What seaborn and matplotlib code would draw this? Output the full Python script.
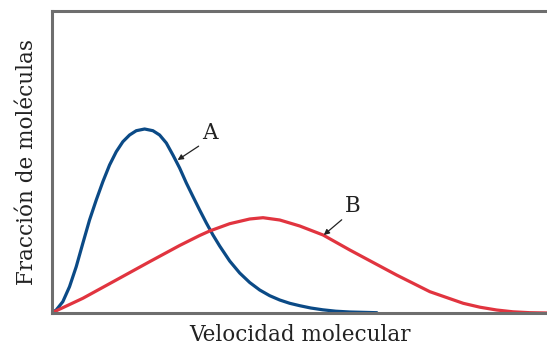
import matplotlib
matplotlib.use("Agg")
import matplotlib.pyplot as plt
import seaborn as sns
import pandas as pd

# Curve A (blue) and curve B (red) (arbitrary units)
speed_a = [0, 4.7, 11.3, 18, 24.7, 31.3, 38, 44.7, 51.3, 58, 64.7, 71.3, 78, 84.7, 93,
           101.3, 108, 114.7, 121.3, 128, 134.7, 141.3, 148, 154.7, 161.3, 168, 178, 188,
           198, 208, 218, 228, 238, 248, 259, 271, 284, 298, 325]
frac_a = [0, 3, 11.3, 26.3, 46.3, 69.7, 93, 113, 131.3, 148, 161.3, 171.3, 178, 182.3,
          184, 182.3, 178, 170, 158, 145, 130, 116.5, 103, 90, 78, 67, 52, 40, 30.5, 23,
          17.3, 13, 9.7, 7.3, 5, 3.2, 1.8, 1, 0.3]
speed_b = [0, 31.3, 64.7, 98, 128, 148, 158, 178, 198, 211.3, 228, 248, 271.3, 298,
           324.7, 344.7, 378, 411.3, 428, 444.7, 461, 478, 495]
frac_b = [0, 14.7, 33, 51.3, 67.5, 77.5, 82, 89.3, 94, 95.3, 93, 87, 78, 63, 48.7, 38,
          21.3, 9.7, 5.8, 3, 1.2, 0.3, 0]
labels = ["A", "B"]
xlabel = "Velocidad molecular"
ylabel = "Fracción de moléculas"

df = pd.concat([
    pd.DataFrame({"v": speed_a, "f": frac_a, "curva": labels[0]}),
    pd.DataFrame({"v": speed_b, "f": frac_b, "curva": labels[1]}),
])

sns.set_style("white")
plt.rcParams["font.family"] = ["DejaVu Serif"]

W, H = 547, 346
fig = plt.figure(figsize=(W / 100, H / 100), dpi=100)
ax = fig.add_axes([51.5 / W, 33 / H, (549 - 51.5) / W, (335 - 33) / H])

sns.lineplot(data=df, x="v", y="f", hue="curva", sort=False, estimator=None,
             palette={"A": "#0b4a86", "B": "#e1343f"}, linewidth=2.3,
             legend=False, ax=ax, solid_capstyle="round", solid_joinstyle="round")

ax.set_xlim(0, 497)
ax.set_ylim(0, 302)
ax.set_xticks([])
ax.set_yticks([])
for s in ["left", "top", "bottom"]:
    ax.spines[s].set_color("#6e6e6e")
    ax.spines[s].set_linewidth(2.2)
ax.spines["right"].set_visible(False)

ax.set_xlabel(xlabel, fontsize=15.5, color="#222222", labelpad=8)
ax.set_ylabel(ylabel, fontsize=15.5, color="#222222", labelpad=10)

arrow = dict(arrowstyle="-|>", color="#222222", lw=0.9, mutation_scale=8,
             shrinkA=0, shrinkB=0)
ax.annotate(labels[0], xy=(126, 153), xytext=(158, 180), fontsize=15.5, color="#222222",
            ha="center", va="center", arrowprops=dict(arrow, relpos=(0.0, 0.0)))
ax.annotate(labels[1], xy=(272, 78), xytext=(301, 107), fontsize=15.5, color="#222222",
            ha="center", va="center", arrowprops=dict(arrow, relpos=(0.0, 0.0)))

fig.savefig("out.png", dpi=100)
